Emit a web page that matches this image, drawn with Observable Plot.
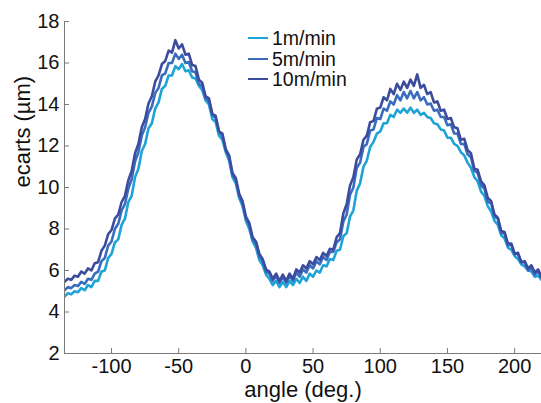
<!DOCTYPE html>
<html><head><meta charset="utf-8">
<script src="https://cdn.jsdelivr.net/npm/d3@7"></script>
<script src="https://cdn.jsdelivr.net/npm/@observablehq/plot@0.6"></script>
<style>
body{margin:0;background:#fff;}
#wrap{position:relative;width:541px;height:403px;font-family:"Liberation Sans",Arial,sans-serif;}
#legend{position:absolute;left:248px;top:28px;font-size:19.5px;line-height:20.6px;color:#111;}
.item{display:flex;align-items:center;white-space:nowrap;height:20.6px;}
.sw{width:20px;height:2px;margin-right:4px;}
</style></head><body><div id="wrap"><div id="chart"></div><div id="legend"></div></div>
<script>
const seriesNames = ["1m/min", "5m/min", "10m/min"];
const seriesColors = ["#1ea3d6", "#3a6cbd", "#3b4c9e"];
const angleStart = -135, angleStep = 2.5;
const xTicks = [-100, -50, 0, 50, 100, 150, 200];
const yTicks = [2, 4, 6, 8, 10, 12, 14, 16, 18];

const v1 = [
4.75,4.9,4.85,5.0,4.95,5.15,5.05,5.3,5.2,5.5,
5.5,5.95,6.0,6.6,6.8,7.35,7.5,8.2,8.5,9.3,
9.6,10.5,10.9,11.75,12.1,12.85,13.1,13.8,14.1,14.75,
14.9,15.4,15.4,15.85,15.7,15.95,15.6,15.65,15.3,15.25,
14.9,14.7,14.2,14.0,13.3,13.15,12.5,12.3,11.7,11.3,
10.5,10.2,9.5,9.1,8.4,8.0,7.4,7.1,6.5,6.25,
5.8,5.6,5.3,5.5,5.2,5.45,5.2,5.5,5.3,5.6,
5.4,5.7,5.5,5.85,5.7,6.0,5.9,6.25,6.2,6.55,
6.5,6.95,7.0,7.65,7.8,8.6,8.9,9.85,10.2,11.0,
11.3,11.95,12.2,12.6,12.7,13.1,13.1,13.5,13.4,13.75,
13.6,13.8,13.6,13.85,13.6,13.75,13.5,13.6,13.4,13.35,
13.1,13.05,12.8,12.75,12.4,12.4,12.1,12.0,11.7,11.55,
11.2,10.95,10.5,10.3,9.8,9.6,9.1,8.85,8.4,8.2,
7.7,7.55,7.1,7.0,6.7,6.55,6.3,6.2,6.0,5.95,
5.7,5.75,5.55];
const v5 = [
5.05,5.2,5.15,5.3,5.25,5.45,5.35,5.6,5.55,5.85,
5.95,6.45,6.6,7.2,7.4,8.0,8.25,8.9,9.2,9.95,
10.4,11.25,11.7,12.5,12.9,13.6,13.9,14.55,14.8,15.4,
15.5,16.0,16.0,16.45,16.2,16.4,16.0,16.05,15.6,15.55,
15.0,14.9,14.3,14.15,13.5,13.35,12.7,12.5,11.8,11.45,
10.6,10.35,9.6,9.25,8.5,8.2,7.5,7.3,6.7,6.45,
5.95,5.85,5.5,5.75,5.4,5.7,5.4,5.75,5.5,5.9,
5.7,6.05,5.9,6.25,6.1,6.45,6.3,6.65,6.5,6.9,
6.9,7.35,7.5,8.35,8.7,9.65,10.0,10.95,11.2,11.95,
12.1,12.75,12.8,13.35,13.3,13.8,13.7,14.15,14.0,14.45,
14.2,14.6,14.3,14.65,14.3,14.6,14.2,14.35,14.0,14.05,
13.7,13.75,13.4,13.4,13.0,13.05,12.6,12.6,12.1,12.1,
11.6,11.45,10.8,10.7,10.1,9.95,9.3,9.25,8.6,8.5,
7.8,7.8,7.2,7.25,6.8,6.8,6.4,6.4,6.0,6.15,
5.8,5.95,5.65];
const v10 = [
5.45,5.6,5.55,5.75,5.7,5.95,5.85,6.1,6.0,6.35,
6.4,6.95,7.2,7.75,7.95,8.5,8.7,9.3,9.6,10.35,
10.8,11.65,12.1,12.9,13.3,14.05,14.4,15.1,15.4,15.95,
16.1,16.6,16.5,17.1,16.7,16.9,16.4,16.45,15.9,15.85,
15.2,15.05,14.4,14.3,13.55,13.45,12.7,12.6,11.85,11.55,
10.7,10.45,9.7,9.35,8.6,8.3,7.6,7.4,6.8,6.55,
6.05,5.95,5.6,5.85,5.5,5.8,5.5,5.85,5.6,6.05,
5.9,6.25,6.1,6.45,6.3,6.65,6.5,6.85,6.7,7.05,
7.0,7.6,7.8,8.75,9.2,10.1,10.5,11.35,11.6,12.3,
12.5,13.15,13.2,13.8,13.85,14.35,14.2,14.75,14.5,15.0,
14.7,15.1,14.8,15.2,14.9,15.45,14.8,14.95,14.5,14.6,
14.1,14.15,13.7,13.75,13.3,13.35,12.9,12.85,12.3,12.35,
11.8,11.65,10.9,10.85,10.3,10.1,9.5,9.35,8.7,8.55,
7.9,7.85,7.3,7.3,6.8,6.85,6.4,6.45,6.1,6.25,
5.9,6.05,5.7];

const allValues = [v1, v5, v10];
const rows = [];
allValues.forEach((vals, s) => vals.forEach((v, i) => rows.push({series: seriesNames[s], angle: angleStart + i * angleStep, value: v})));

const font = "'Liberation Sans', Arial, sans-serif";
const axisColor = "#7a7a7a";

const chart = Plot.plot({
  width: 541, height: 403,
  marginLeft: 64, marginRight: 0, marginTop: 21, marginBottom: 50,
  x: {domain: [-135, 220]},
  y: {domain: [2, 18]},
  color: {domain: seriesNames, range: seriesColors},
  style: {fontFamily: font, fontSize: "16px", color: "#111", background: "#fff"},
  marks: [
    Plot.line(rows, {x: "angle", y: "value", z: "series", stroke: "series", strokeWidth: 2.6, clip: true}),
    Plot.ruleY([2], {stroke: axisColor, strokeWidth: 1}),
    Plot.ruleX([-135], {stroke: axisColor, strokeWidth: 1}),
    Plot.axisX(xTicks, {tickSize: -5, tickPadding: 10, stroke: axisColor, fill: "#111", fontSize: 20, label: null, tickFormat: d => String(d)}),
    Plot.axisY(yTicks, {tickSize: -5, tickPadding: 10, stroke: axisColor, fill: "#111", fontSize: 20, label: null, tickFormat: d => String(d)}),
    Plot.text(["angle (deg.)"], {frameAnchor: "bottom", dy: 36, text: d => d, fontSize: 22, fill: "#111", lineAnchor: "middle"}),
    Plot.text(["ecarts (µm)"], {frameAnchor: "left", dx: -42, rotate: -90, text: d => d, fontSize: 22, fill: "#111", lineAnchor: "middle"})
  ]
});
document.getElementById("chart").appendChild(chart);

const legend = document.getElementById("legend");
seriesNames.forEach((name, i) => {
  const item = document.createElement("div");
  item.className = "item";
  const sw = document.createElement("span");
  sw.className = "sw";
  sw.style.background = seriesColors[i];
  const t = document.createElement("span");
  t.textContent = name;
  item.appendChild(sw); item.appendChild(t);
  legend.appendChild(item);
});
</script>
</body></html>
